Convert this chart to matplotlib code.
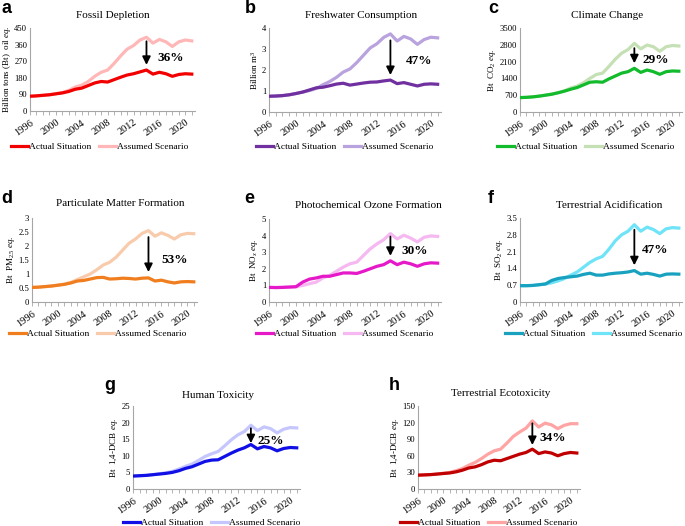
import matplotlib
matplotlib.use('Agg')
import matplotlib.pyplot as plt
from matplotlib.ticker import MultipleLocator

plt.rcParams['font.family'] = ['Liberation Serif', 'DejaVu Serif']
plt.rcParams['mathtext.fontset'] = 'custom'
plt.rcParams['mathtext.rm'] = 'Liberation Serif'
plt.rcParams['mathtext.it'] = 'Liberation Serif:italic'

years = list(range(1996, 2022))

# a - Fossil Depletion
fossil_actual = [80, 82, 85, 88, 93, 98, 106, 118, 124, 138, 152, 160, 157, 170, 183, 195, 202, 212, 222, 200, 210, 202, 188, 198, 202, 200]
fossil_assumed = [80, 82, 85, 88, 94, 100, 112, 130, 140, 160, 188, 210, 222, 258, 298, 335, 355, 385, 400, 368, 388, 375, 350, 375, 385, 380]
# b - Freshwater Consumption
water_actual = [0.75, 0.76, 0.78, 0.82, 0.88, 0.95, 1.05, 1.15, 1.18, 1.25, 1.33, 1.37, 1.28, 1.33, 1.38, 1.42, 1.43, 1.48, 1.52, 1.35, 1.4, 1.32, 1.24, 1.32, 1.34, 1.32]
water_assumed = [0.75, 0.76, 0.78, 0.82, 0.88, 0.95, 1.02, 1.12, 1.3, 1.45, 1.65, 1.9, 2.05, 2.35, 2.7, 3.05, 3.25, 3.55, 3.72, 3.38, 3.6, 3.48, 3.22, 3.45, 3.56, 3.53]
# c - Climate Change
climate_actual = [600, 610, 630, 660, 700, 740, 800, 870, 950, 1020, 1130, 1240, 1260, 1240, 1380, 1500, 1620, 1680, 1820, 1650, 1750, 1680, 1570, 1680, 1710, 1700]
climate_assumed = [600, 610, 630, 660, 700, 750, 810, 880, 1000, 1080, 1220, 1400, 1560, 1620, 1900, 2200, 2450, 2600, 2860, 2630, 2790, 2720, 2530, 2720, 2770, 2750]
# d - Particulate Matter Formation
pm_actual = [0.52, 0.53, 0.55, 0.57, 0.6, 0.63, 0.68, 0.75, 0.77, 0.82, 0.87, 0.88, 0.82, 0.83, 0.85, 0.84, 0.82, 0.85, 0.86, 0.75, 0.78, 0.72, 0.68, 0.72, 0.73, 0.72]
pm_assumed = [0.52, 0.53, 0.55, 0.57, 0.6, 0.64, 0.7, 0.8, 0.9, 1.0, 1.15, 1.32, 1.42, 1.6, 1.85, 2.1, 2.25, 2.45, 2.55, 2.35, 2.47, 2.38, 2.25, 2.4, 2.45, 2.44]
# e - Photochemical Ozone Formation
ozone_actual = [0.88, 0.87, 0.88, 0.9, 0.92, 1.2, 1.38, 1.45, 1.55, 1.55, 1.65, 1.75, 1.75, 1.72, 1.85, 2.0, 2.15, 2.25, 2.48, 2.25, 2.4, 2.3, 2.15, 2.3, 2.36, 2.34]
ozone_assumed = [0.88, 0.87, 0.88, 0.9, 0.92, 1.0, 1.1, 1.2, 1.45, 1.6, 1.85, 2.1, 2.3, 2.4, 2.8, 3.2, 3.5, 3.75, 4.12, 3.8, 4.02, 3.85, 3.62, 3.9, 3.98, 3.95]
# f - Terrestrial Acidification
acid_actual = [0.68, 0.68, 0.69, 0.72, 0.75, 0.9, 0.98, 1.02, 1.05, 1.08, 1.15, 1.2, 1.12, 1.12, 1.17, 1.2, 1.22, 1.25, 1.31, 1.16, 1.2, 1.15, 1.08, 1.16, 1.17, 1.16]
acid_assumed = [0.68, 0.68, 0.69, 0.72, 0.75, 0.8, 0.88, 0.98, 1.12, 1.25, 1.45, 1.65, 1.8, 1.9, 2.2, 2.55, 2.8, 2.95, 3.22, 2.95, 3.12, 3.02, 2.85, 3.05, 3.1, 3.08]
# g - Human Toxicity
human_actual = [3.9, 4.0, 4.1, 4.3, 4.5, 4.7, 5.0, 5.5, 6.2, 6.7, 7.5, 8.3, 8.7, 8.8, 9.8, 10.8, 11.7, 12.4, 13.4, 12.1, 12.8, 12.4, 11.5, 12.2, 12.5, 12.4]
human_assumed = [3.9, 4.0, 4.1, 4.3, 4.6, 4.9, 5.3, 6.0, 6.8, 7.5, 8.6, 9.8, 10.6, 11.3, 13.0, 14.8, 16.3, 17.3, 19.2, 17.6, 18.7, 18.2, 16.9, 18.0, 18.5, 18.4]
# h - Terrestrial Ecotoxicity
eco_actual = [25, 25.5, 26, 27, 28, 29, 31, 34, 38, 40, 44, 49, 52, 51, 55, 59, 63, 66, 72, 64, 67, 65, 60, 64, 66, 65]
eco_assumed = [25, 25.5, 26, 27, 28.5, 30, 33, 37, 43, 48, 55, 63, 69, 72, 83, 95, 103, 110, 123, 112, 119, 116, 109, 115, 118, 118]

panels = [
    # letter, title, ylabel, actual, assumed, c_actual, c_assumed, ymax, ystep, ytick fmt,
    # rect px (l, r, top, bottom), legend centre px, letter px, title centre px,
    # arrow (top, bottom), pct text (x, y, label)
    ('a', 'Fossil Depletion', r'Billion tons (Bt)  oil $\it{eq.}$', fossil_actual, fossil_assumed,
     '#F20000', '#FFB7B7', 450, 90, '{:.0f}', (30, 195, 28, 111), (100, 147), (2, 13), (113, 16),
     (378, 250), (2017.7, 286, '36%')),
    ('b', 'Freshwater Consumption', r'Billion m$^3$', water_actual, water_assumed,
     '#7030A0', '#B9A3DE', 4, 1, '{:.0f}', (269, 441, 28, 112), (345, 147), (245, 13), (361, 16),
     (3.41, 1.76), (2018.2, 2.43, '47%')),
    ('c', 'Climate Change', r'Bt  CO$_2$ $\it{eq.}$', climate_actual, climate_assumed,
     '#12BB2C', '#C5E0B4', 3500, 700, '{:.0f}', (520, 682, 28, 112), (586, 147), (488, 13), (607, 16),
     (2660, 2030), (2017.3, 2170, '29%')),
    ('d', 'Particulate Matter Formation', r'Bt  PM$_{2.5}$ $\it{eq.}$', pm_actual, pm_assumed,
     '#F07D1E', '#F8CBAD', 3, 0.5, '{:g}', (32, 197, 218, 302), (98, 334), (1, 203), (120, 204),
     (2.32, 1.07), (2018.0, 1.51, '53%')),
    ('e', 'Photochemical Ozone Formation', r'Bt  NO$_x$ $\it{eq.}$', ozone_actual, ozone_assumed,
     '#E619C8', '#F5B8F0', 5, 1, '{:.0f}', (269, 441, 219, 302), (345, 334), (244, 203), (368, 205),
     (3.94, 2.78), (2017.6, 3.1, '30%')),
    ('f', 'Terrestrial Acidification', r'Bt  SO$_2$ $\it{eq.}$', acid_actual, acid_assumed,
     '#18A2C0', '#6FE3F7', 3.5, 0.7, '{:g}', (520, 682, 218, 302), (594, 334), (488, 203), (609, 205),
     (3.01, 1.53), (2017.3, 2.18, '47%')),
    ('g', 'Human Toxicity', r'Bt  1,4-DCB $\it{eq.}$', human_actual, human_assumed,
     '#1010E6', '#C6C6FF', 25, 5, '{:.0f}', (133, 300, 406, 489), (212, 523), (104, 390), (218, 396),
     (18.3, 13.8), (2017.0, 14.6, '25%')),
    ('h', 'Terrestrial Ecotoxicity', r'Bt  1,4-DCB $\it{eq.}$', eco_actual, eco_assumed,
     '#C00000', '#FFA3A3', 150, 30, '{:.0f}', (418, 580, 406, 489), (489, 523), (389, 390), (501, 394),
     (118.7, 79.5), (2017.2, 92.8, '34%')),
]

W, H = 685, 526
fig = plt.figure(figsize=(W / 100, H / 100), dpi=100)

for (letter, title, ylabel, actual, assumed, c_act, c_ass, ymax, ystep, fmt,
     rect, leg_c, let_p, tit_p, arrow, pct) in panels:
    l, r, t, b = rect
    ax = fig.add_axes([l / W, 1 - b / H, (r - l) / W, (b - t) / H])
    ax.plot(years, actual, color=c_act, lw=2.3, solid_joinstyle='round', label='Actual Situation', zorder=3)
    ax.plot(years, assumed, color=c_ass, lw=2.3, solid_joinstyle='round', label='Assumed Scenario', zorder=2)

    ax.set_xlim(1996, 2021.5)
    ax.xaxis.set_major_locator(MultipleLocator(4))
    ax.xaxis.set_minor_locator(MultipleLocator(1))
    yt = [i * ystep for i in range(int(round(ymax / ystep)) + 1)]
    ax.set_yticks(yt)
    ax.set_yticklabels([fmt.format(v) for v in yt])
    ax.set_ylim(0, ymax)
    for lab in ax.get_xticklabels():
        lab.set_rotation(35)
        lab.set_ha('right')
        lab.set_va('top')
        lab.set_rotation_mode('anchor')
    ax.tick_params(axis='x', which='both', direction='out', length=3, width=0.6,
                   color='#A6A6A6', labelsize=7.5, pad=2)
    ax.tick_params(axis='y', direction='out', length=0, labelsize=6.2, pad=2)
    for s in ['top', 'right']:
        ax.spines[s].set_visible(False)
    for s in ['left', 'bottom']:
        ax.spines[s].set_color('#A6A6A6')
        ax.spines[s].set_linewidth(0.8)

    fig.text(tit_p[0] / W, 1 - tit_p[1] / H, title, fontsize=8, ha='center', va='center')
    ax.set_ylabel(ylabel, fontsize=6.5, labelpad=1)

    ax.annotate('', xy=(2014, arrow[1]), xytext=(2014, arrow[0]),
                arrowprops=dict(arrowstyle='-|>', color='black', lw=1.3,
                                mutation_scale=12, shrinkA=0, shrinkB=0), zorder=5)
    ax.text(pct[0], pct[1], pct[2], fontsize=9.5, fontweight='bold',
            ha='center', va='center', zorder=5)

    ax.legend(loc='center', bbox_to_anchor=(leg_c[0] / W, 1 - leg_c[1] / H),
              bbox_transform=fig.transFigure, ncol=2, frameon=False, fontsize=6.8,
              handlelength=1.8, handletextpad=0.1, columnspacing=0.8, borderpad=0)

    fig.text(let_p[0] / W, 1 - let_p[1] / H, letter, fontsize=13, fontweight='bold',
             family=['Liberation Sans', 'DejaVu Sans'], ha='left', va='baseline')

fig.savefig('out.png', dpi=100, facecolor='white')
